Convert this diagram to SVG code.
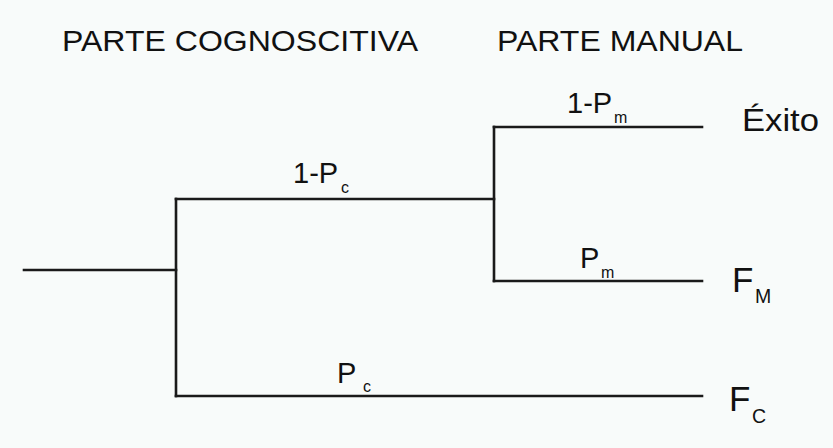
<svg xmlns="http://www.w3.org/2000/svg" width="833" height="448" viewBox="0 0 833 448">
<style>
.ln{stroke:#1a1a1a;stroke-width:2.6;fill:none;stroke-linecap:square}
text{font-family:"Liberation Sans",Arial,sans-serif;fill:#111}
.hd{font-size:29.5px}
.lb{font-size:29px}
.sb{font-size:16px}
.out{font-size:35px}
.osb{font-size:19.5px}
</style>
<rect width="833" height="448" fill="#f8fbfa"/>
<g id="headers">
<text class="hd" x="62" y="51" textLength="356" lengthAdjust="spacingAndGlyphs">PARTE COGNOSCITIVA</text>
<text class="hd" x="497" y="51" textLength="246" lengthAdjust="spacingAndGlyphs">PARTE MANUAL</text>
</g>
<g id="connectors">
<path class="ln" d="M24 270H176"/>
<path class="ln" d="M176 199V396"/>
<path class="ln" d="M176 199H494"/>
<path class="ln" d="M176 396H702"/>
<path class="ln" d="M494 127V281"/>
<path class="ln" d="M494 127H702"/>
<path class="ln" d="M494 281H702"/>
</g>
<g id="label-1-pc"><text class="lb" x="293" y="183">1-P</text><text class="sb" x="341" y="193">c</text></g>
<g id="label-pc"><text class="lb" x="337" y="383">P</text><text class="sb" x="363" y="392">c</text></g>
<g id="label-1-pm"><text class="lb" x="567" y="113">1-P</text><text class="sb" x="614" y="123">m</text></g>
<g id="label-pm"><text class="lb" x="580" y="268">P</text><text class="sb" x="601" y="278">m</text></g>
<g id="node-exito"><text class="out" x="742" y="131" style="font-size:31px" textLength="77" lengthAdjust="spacingAndGlyphs">Éxito</text></g>
<g id="node-fm"><text class="out" x="732" y="292">F</text><text class="osb" x="755" y="303">M</text></g>
<g id="node-fc"><text class="out" x="729" y="411">F</text><text class="osb" x="752" y="423">C</text></g>
</svg>
